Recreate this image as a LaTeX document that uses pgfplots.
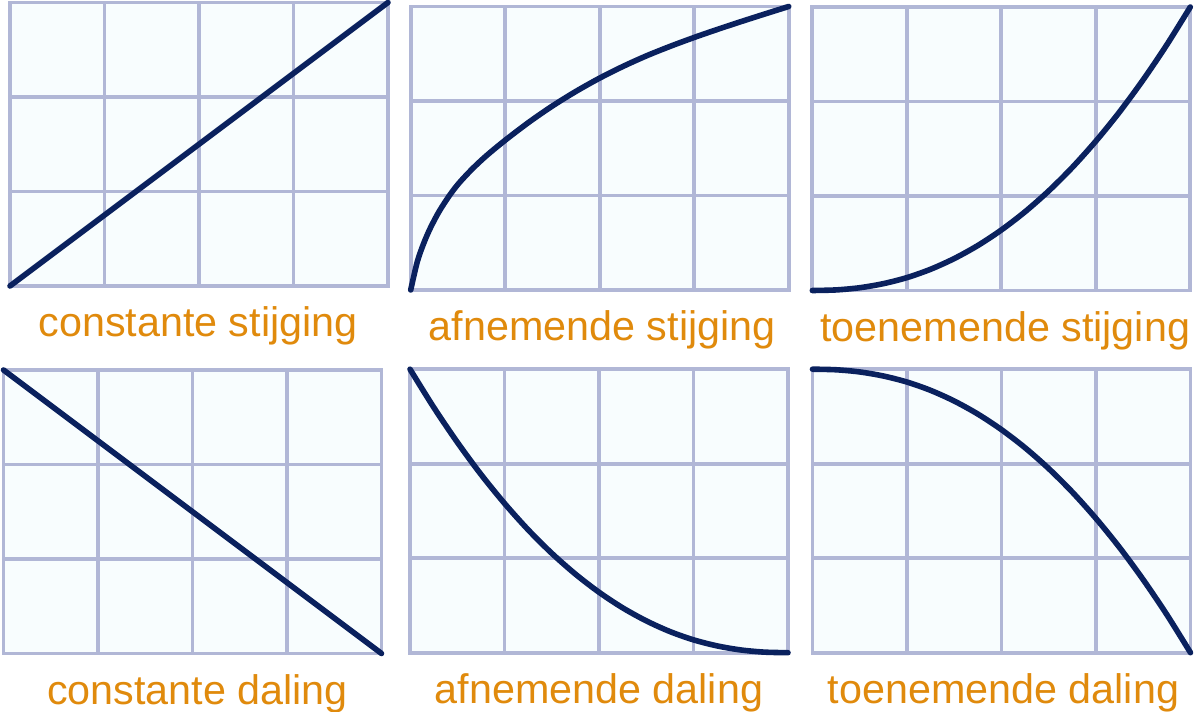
\documentclass[border=0pt]{standalone}
\usepackage{pgfplots}
\pgfplotsset{compat=1.18}
\usepackage{fontspec}
\setmainfont{Liberation Sans}
\definecolor{gridc}{HTML}{B1B7D6}
\definecolor{bgc}{HTML}{F8FDFE}
\definecolor{curvec}{HTML}{0A215E}
\definecolor{labc}{HTML}{E08A0C}
\pgfplotsset{panel/.style={scale only axis, width=378bp, height=283.5bp,
  xmin=0,xmax=4,ymin=0,ymax=3, xtick={1,2,3}, ytick={1,2},
  xticklabels={}, yticklabels={}, major tick length=0pt, tick style={draw=none},
  grid=major, major grid style={line width=3.8bp, gridc},
  axis line style={line width=3.8bp, gridc},
  axis background/.style={fill=bgc}, clip=false,
  anchor=south west},
  crv/.style={line width=5.6bp, color=curvec, line cap=round, line join=round, mark=none, smooth, tension=0.5}}
\newcommand{\lab}[2]{\node[anchor=base, text=labc, font=\fontsize{41.3bp}{49bp}\selectfont, xshift=#1, yshift=-51bp] at (rel axis cs:0.5,0) {#2};}
\begin{document}
\begin{tikzpicture}
\useasboundingbox (0,0) rectangle (1195bp,712bp);
% top left
\begin{axis}[panel, at={(10bp,426bp)}]
\addplot[crv] coordinates {(0,0) (4,3)};
\lab{-1bp}{constante stijging}
\end{axis}
% top middle
\begin{axis}[panel, at={(410.7bp,422bp)}]
\addplot[crv] coordinates {(0,0) (0.07,0.30) (0.14,0.50) (0.21,0.66) (0.30,0.83) (0.41,1.0) (0.51,1.13) (0.65,1.28) (0.8,1.42) (1,1.585) (1.25,1.775) (1.5,1.9475) (1.75,2.1025) (2,2.2425) (2.25,2.3675) (2.5,2.48) (2.75,2.58) (3,2.6725) (3.25,2.759) (3.5,2.8415) (3.75,2.9215) (4,3)};
\lab{2.5bp}{afnemende stijging}
\end{axis}
% top right
\begin{axis}[panel, at={(812.3bp,421.5bp)}]
\addplot[crv] coordinates {(0,0) (0.25,0.006) (0.5,0.029) (0.75,0.072) (1,0.136) (1.25,0.224) (1.5,0.337) (1.75,0.475) (2,0.640) (2.25,0.832) (2.5,1.052) (2.75,1.301) (3,1.580) (3.25,1.888) (3.5,2.228) (3.75,2.598) (4,3)};
\lab{4bp}{toenemende stijging}
\end{axis}
% bottom left
\begin{axis}[panel, at={(3.5bp,58.5bp)}]
\addplot[crv] coordinates {(0,3) (4,0)};
\lab{5bp}{constante daling}
\end{axis}
% bottom middle
\begin{axis}[panel, at={(410bp,59.3bp)}]
\addplot[crv] coordinates {(0,3) (0.25,2.598) (0.5,2.228) (0.75,1.888) (1,1.580) (1.25,1.301) (1.5,1.052) (1.75,0.832) (2,0.640) (2.25,0.475) (2.5,0.337) (2.75,0.224) (3,0.136) (3.25,0.072) (3.5,0.029) (3.75,0.006) (4,0)};
\lab{0bp}{afnemende daling}
\end{axis}
% bottom right
\begin{axis}[panel, at={(812.5bp,59.3bp)}]
\addplot[crv] coordinates {(0,3) (0.25,2.994) (0.5,2.971) (0.75,2.928) (1,2.864) (1.25,2.776) (1.5,2.663) (1.75,2.525) (2,2.360) (2.25,2.168) (2.5,1.948) (2.75,1.699) (3,1.420) (3.25,1.112) (3.5,0.772) (3.75,0.402) (4,0)};
\lab{2bp}{toenemende daling}
\end{axis}
\end{tikzpicture}
\end{document}
